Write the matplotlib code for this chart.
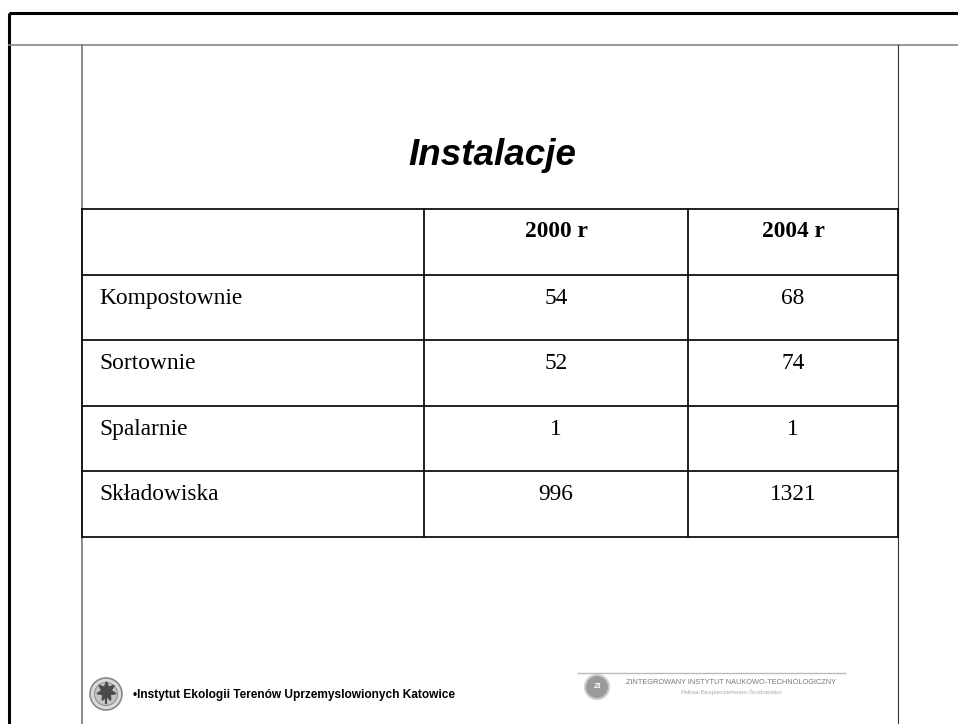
import matplotlib
matplotlib.use('Agg')
import matplotlib.pyplot as plt
from matplotlib.patches import Circle

# dane tabeli
title = 'Instalacje'
col_labels = ['2000 r', '2004 r']
row_labels = ['Kompostownie', 'Sortownie', 'Spalarnie', 'Składowiska']
values_2000 = ['54', '52', '1', '996']
values_2004 = ['68', '74', '1', '1321']
footer_left = '•Instytut Ekologii Terenów Uprzemyslowionych Katowice'
footer_right = 'ZINTEGROWANY INSTYTUT NAUKOWO-TECHNOLOGICZNY'
footer_right_sub = 'Paliwa-Bezpieczeństwo-Środowisko'

W, H = 958, 724
fig = plt.figure(figsize=(W / 100, H / 100), dpi=100)
ax = fig.add_axes([0, 0, 1, 1])
ax.set_xlim(0, W)
ax.set_ylim(H, 0)
ax.axis('off')

# ramka slajdu
ax.plot([9, 9], [13, H], color='black', lw=2.2, solid_capstyle='butt')
ax.plot([9, W], [13, 13], color='black', lw=2.2, solid_capstyle='butt')
ax.plot([9, W], [45, 45], color='#888888', lw=1.2)
ax.plot([82, 82], [45, H], color='#777777', lw=1.2)
ax.plot([898, 898], [45, H], color='#333333', lw=0.8)

# tytul
ax.text(492, 165, title, fontsize=26.5, fontweight='bold', fontstyle='italic',
        family='Liberation Sans', ha='center', va='baseline')

# tabela
col_x = [82, 424, 688, 898]
row_top = 209
row_h = 65.6
n_rows = len(row_labels) + 1
row_y = [row_top + i * row_h for i in range(n_rows + 1)]

for y in row_y:
    ax.plot([col_x[0], col_x[-1]], [y, y], color='#111111', lw=1.3, solid_capstyle='projecting')
for x in col_x:
    ax.plot([x, x], [row_y[0], row_y[-1]], color='#111111', lw=1.3, solid_capstyle='projecting')

serif = 'Liberation Serif'
fs = 16.8
for j, lab in enumerate(col_labels):
    cx = (col_x[j + 1] + col_x[j + 2]) / 2
    ax.text(cx, row_y[0] + 28, lab, fontsize=fs, fontweight='bold', family=serif,
            ha='center', va='baseline')

for i, lab in enumerate(row_labels):
    base = row_y[i + 1] + 29
    ax.text(col_x[0] + 17, base, lab, fontsize=fs, family=serif, ha='left', va='baseline')
    for j, vals in enumerate([values_2000, values_2004]):
        cx = (col_x[j + 1] + col_x[j + 2]) / 2
        ax.text(cx, base, vals[i], fontsize=fs, family=serif, ha='center', va='baseline')

# stopka - lewe logo
ax.add_patch(Circle((106, 694), 16, facecolor='#d8d8d8', edgecolor='#888888', lw=1.2))
ax.add_patch(Circle((106, 694), 11.5, facecolor='#c4c4c4', edgecolor='#808080', lw=0.6))
ax.plot([106], [691], marker=(7, 1, 0), markersize=14, color='#4a4a4a')
ax.plot([106, 106], [694, 703], color='#4a4a4a', lw=1.5)
ax.text(133, 698, footer_left, fontsize=8.55, fontweight='bold', family='Liberation Sans',
        ha='left', va='baseline')

# stopka - prawe logo
ax.plot([578, 845], [673, 673], color='#bbbbbb', lw=1.0)
ax.add_patch(Circle((597, 687), 12, facecolor='#9a9a9a', edgecolor='#cccccc', lw=1.5))
ax.text(597, 687, 'ZI', fontsize=6, fontweight='bold', color='white', family='Liberation Sans',
        ha='center', va='center')
ax.text(731, 684, footer_right, fontsize=5.35, color='#777777', family='Liberation Sans',
        ha='center', va='baseline')
ax.text(731, 694, footer_right_sub, fontsize=4.6, color='#aaaaaa', family='Liberation Sans',
        ha='center', va='baseline')

fig.savefig('out.png', dpi=100, facecolor='white')
